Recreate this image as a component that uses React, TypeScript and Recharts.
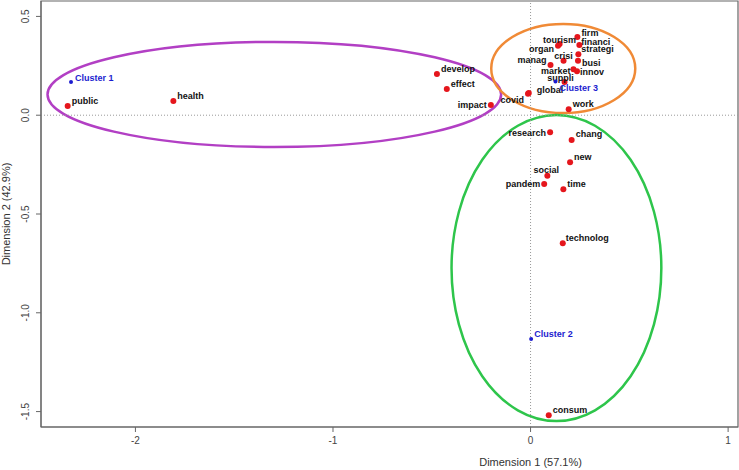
import React from "react";
import {
  ScatterChart,
  Scatter,
  XAxis,
  YAxis,
  ReferenceLine,
  ReferenceArea,
  Label,
} from "recharts";

// word coordinates on the two dimensions
const words = [
  "firm", "tourism", "financi", "strategi", "crisi", "busi", "manag", "organ",
  "market", "innov", "suppli", "global", "covid", "work", "develop", "effect",
  "impact", "health", "public", "research", "chang", "new", "social", "pandem",
  "time", "technolog", "consum",
];
const wordDim1 = [
  0.237, 0.147, 0.247, 0.242, 0.167, 0.24, 0.101, 0.139,
  0.217, 0.235, 0.172, -0.009, -0.013, 0.193, -0.474, -0.424,
  -0.201, -1.808, -2.343, 0.099, 0.208, 0.2, 0.085, 0.069,
  0.166, 0.163, 0.092,
];
const wordDim2 = [
  0.396, 0.361, 0.355, 0.308, 0.275, 0.275, 0.254, 0.351,
  0.233, 0.223, 0.168, 0.113, 0.108, 0.03, 0.209, 0.133,
  0.052, 0.072, 0.047, -0.086, -0.125, -0.238, -0.306, -0.348,
  -0.375, -0.648, -1.519,
];

const clusters = ["Cluster 1", "Cluster 2", "Cluster 3"];
const clusterDim1 = [-2.326, 0.003, 0.126];
const clusterDim2 = [0.168, -1.133, 0.171];

// ellipse bounding boxes: [xmin, xmax, ymin, ymax]
const ellipseNames = ["purple", "orange", "green"];
const ellipseBoxes = [
  [-2.445, -0.149, -0.161, 0.371],
  [-0.199, 0.53, 0.011, 0.462],
  [-0.4, 0.662, -1.548, 0.001],
];
const ellipseColors = ["#b23fc4", "#f08a36", "#2ec54b"];

const xTicks = [-2, -1, 0, 1];
const yTicks = [-1.5, -1, -0.5, 0, 0.5];
const xDomain = [-2.478, 1.05];
const yDomain = [-1.578, 0.578];

const wordData = words.map((w, i) => ({ name: w, x: wordDim1[i], y: wordDim2[i] }));
const clusterData = clusters.map((c, i) => ({ name: c, x: clusterDim1[i], y: clusterDim2[i] }));

// label offsets from the dot: [dx, dy, anchor]
const place: Record<string, [number, number, "start" | "middle" | "end"]> = {
  firm: [4, -4, "start"],
  tourism: [0, -4, "middle"],
  financi: [2, -3, "start"],
  strategi: [3, -5, "start"],
  crisi: [0, -5, "middle"],
  busi: [4, 2, "start"],
  manag: [-4, -5, "end"],
  organ: [-4, 3, "end"],
  market: [-3, 2, "end"],
  innov: [3, 1, "start"],
  suppli: [-4, -4, "middle"],
  global: [8, -3, "start"],
  covid: [-4, 6, "end"],
  work: [4, -5, "start"],
  develop: [4, -5, "start"],
  effect: [4, -5, "start"],
  impact: [-4, 0, "end"],
  health: [4, -5, "start"],
  public: [4, -5, "start"],
  research: [-4, 1, "end"],
  chang: [4, -6, "start"],
  new: [4, -5, "start"],
  social: [-1, -6, "middle"],
  pandem: [-4, 0, "end"],
  time: [4, -5, "start"],
  technolog: [3, -5, "start"],
  consum: [4, -5, "start"],
  "Cluster 1": [4, -4, "start"],
  "Cluster 2": [3, -5, "start"],
  "Cluster 3": [4, 7, "start"],
};

const FONT = "'Liberation Sans', Arial, sans-serif";

const makeDot = (color: string, r: number) => (props: any) => {
  const { cx, cy } = props;
  const name = props.payload?.name ?? props.name;
  const [dx, dy, anchor] = place[name] || [4, -4, "start"];
  return (
    <g>
      <circle cx={cx} cy={cy} r={r} fill={color} />
      <text
        x={cx + dx}
        y={cy + dy + 3}
        textAnchor={anchor}
        fontSize={9}
        fontWeight="bold"
        fontFamily={FONT}
        fill={color === "#e5161c" ? "#111" : color}
      >
        {name}
      </text>
    </g>
  );
};

const ellipseShape = (color: string) => (props: any) => {
  const { x, y, width, height } = props;
  return (
    <ellipse
      cx={x + width / 2}
      cy={y + height / 2}
      rx={Math.abs(width) / 2}
      ry={Math.abs(height) / 2}
      fill="none"
      stroke={color}
      strokeWidth={2.5}
    />
  );
};

const YTick = (props: any) => {
  const { y, payload } = props;
  return (
    <text
      x={29}
      y={y}
      transform={`rotate(-90, 29, ${y})`}
      textAnchor="middle"
      fontSize={10}
      fontFamily={FONT}
      fill="#444"
    >
      {Number(payload.value).toFixed(1)}
    </text>
  );
};

export default function App() {
  return (
    <div style={{ position: "absolute", left: 0, top: 0, background: "#fff" }}>
      <ScatterChart
        width={739}
        height={470}
        margin={{ top: 1, right: 1, bottom: 0, left: 0 }}
      >
        <XAxis
          type="number"
          dataKey="x"
          domain={xDomain}
          ticks={xTicks}
          allowDataOverflow
          height={43}
          tickSize={5}
          tickMargin={5}
          stroke="#666"
          tick={{ fontSize: 10, fontFamily: FONT, fill: "#444" }}
        >
          <Label
            content={(p: any) => {
              const vb = p.viewBox;
              const cx = vb.x + (vb.width * (0 - xDomain[0])) / (xDomain[1] - xDomain[0]);
              return (
                <text
                  x={cx}
                  y={466}
                  textAnchor="middle"
                  fontSize={11}
                  fontFamily={FONT}
                  fill="#333"
                >
                  Dimension 1 (57.1%)
                </text>
              );
            }}
          />
        </XAxis>
        <YAxis
          type="number"
          dataKey="y"
          domain={yDomain}
          ticks={yTicks}
          allowDataOverflow
          width={41}
          tickSize={5}
          stroke="#666"
          tick={<YTick />}
        >
          <Label
            content={(p: any) => {
              const vb = p.viewBox;
              const cy = vb.y + vb.height / 2;
              return (
                <text
                  x={10}
                  y={cy}
                  transform={`rotate(-90, 10, ${cy})`}
                  textAnchor="middle"
                  fontSize={11}
                  fontFamily={FONT}
                  fill="#333"
                >
                  Dimension 2 (42.9%)
                </text>
              );
            }}
          />
        </YAxis>
        <ReferenceArea
          x1={xDomain[0]}
          x2={xDomain[1]}
          y1={yDomain[0]}
          y2={yDomain[1]}
          fill="none"
          stroke="#666"
          strokeWidth={1.2}
          fillOpacity={0}
        />
        <ReferenceLine x={0} stroke="#999" strokeDasharray="1 2" />
        <ReferenceLine y={0} stroke="#999" strokeDasharray="1 2" />
        {ellipseBoxes.map((b, i) => (
          <ReferenceArea
            key={ellipseNames[i]}
            x1={b[0]}
            x2={b[1]}
            y1={b[2]}
            y2={b[3]}
            shape={ellipseShape(ellipseColors[i])}
          />
        ))}
        <Scatter
          data={wordData}
          shape={makeDot("#e5161c", 3)}
          isAnimationActive={false}
        />
        <Scatter
          data={clusterData}
          shape={makeDot("#1c1ccf", 2)}
          isAnimationActive={false}
        />
      </ScatterChart>
    </div>
  );
}
